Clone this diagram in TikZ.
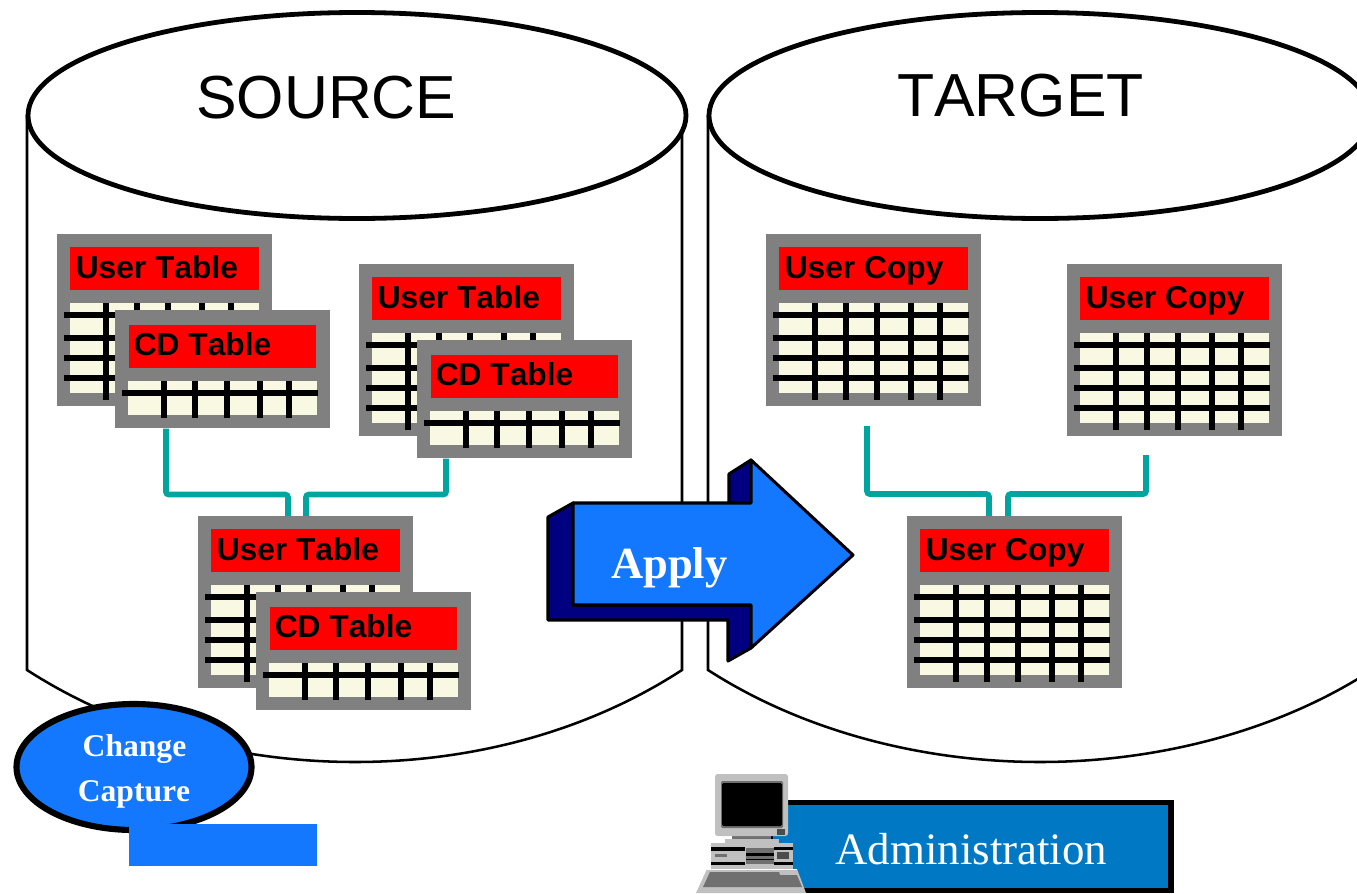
\documentclass[tikz,border=0pt]{standalone}
\usepackage{fontspec}
\setmainfont[Kerning=Off]{Liberation Serif}
\setsansfont[Kerning=Off]{Liberation Sans}
\usetikzlibrary{shapes.geometric}
\definecolor{capblue}{HTML}{1478FF}
\definecolor{navyback}{HTML}{000080}
\definecolor{admblue}{HTML}{0078C3}
\definecolor{tealline}{HTML}{00A5A0}
\definecolor{cream}{HTML}{F9F8E3}
\definecolor{framegray}{HTML}{808080}
\definecolor{silver}{HTML}{C0C0C0}
\definecolor{midgray}{HTML}{707070}
\def\uu{0.75pt}
\tikzset{
  x=0.75pt,y=-0.75pt,
  cyl/.style={draw=black,line width=3.6pt,fill=white},
  cylside/.style={draw=black,line width=1.9pt},
  biglabel/.style={anchor=base west,inner sep=0pt,font=\sffamily\fontsize{45.6}{50}\selectfont},
  framebox/.style={fill=framegray,draw=none,anchor=north west,inner sep=0pt},
  redlabel/.style={fill=red,draw=none,anchor=north west,inner sep=0pt},
  tbltext/.style={anchor=base west,inner sep=0pt,font=\sffamily\bfseries\fontsize{23.8}{26}\selectfont},
  tblgrid/.style={draw=black,line width=4.2pt},
  conn/.style={draw=tealline,line width=4.2pt,rounded corners=2pt},
  arrowfront/.style={fill=capblue,draw=black,line width=2.3pt,line join=round},
  arrowback/.style={fill=navyback,draw=black,line width=2.3pt,line join=round},
  whitebold/.style={text=white,inner sep=0pt,anchor=base,font=\rmfamily\bfseries\fontsize{23.7}{26}\selectfont},
}
\newcommand{\usertbl}[4]{% name, x, y, text
  \begin{scope}[shift={(#2,#3)}]
    \node[framebox,minimum width=215*\uu,minimum height=172*\uu] (#1) at (0,0) {};
    \node[redlabel,minimum width=189*\uu,minimum height=43*\uu] (#1r) at (13,13) {};
    \fill[cream] (13,69) rectangle (202,159);
    \foreach \yy in {81,104,124,144}{\draw[tblgrid] (7,\yy) -- (203,\yy);}
    \foreach \xx in {49,80,111,145,174}{\draw[tblgrid] (\xx,69) -- (\xx,166);}
    \node[tbltext] (#1t) at (18.5,44.5) {#4};
  \end{scope}}
\newcommand{\cdtbl}[4]{% name, x, y, text
  \begin{scope}[shift={(#2,#3)}]
    \node[framebox,minimum width=215*\uu,minimum height=118*\uu] (#1) at (0,0) {};
    \node[redlabel,minimum width=187*\uu,minimum height=43*\uu] (#1r) at (14,15) {};
    \fill[cream] (13,71) rectangle (202,105);
    \draw[tblgrid] (7,83) -- (203,83);
    \foreach \xx in {49,80,112,145,174}{\draw[tblgrid] (\xx,71) -- (\xx,108);}
    \node[tbltext] (#1t) at (18.5,45) {#4};
  \end{scope}}
\begin{document}
\begin{tikzpicture}
\useasboundingbox (0,0) rectangle (1357,893);
\clip (0,0) rectangle (1357,893);
\fill[white] (0,0) rectangle (1357,893);

% source cylinder
\draw[cylside] (27,115) -- (27,670) .. controls (120,730) and (235,762) .. (355,762)
   .. controls (475,762) and (590,730) .. (682,670) -- (682,115);
\draw[cyl] (357,115.5) ellipse [x radius=329,y radius=103];
\node[biglabel] (source) at (196,118) {SOURCE};

% target cylinder
\draw[cylside] (708,115) -- (708,670) .. controls (801,730) and (920,762) .. (1040,762)
   .. controls (1160,762) and (1280,730) .. (1372,670) -- (1372,115);
\draw[cyl] (1040,115.5) ellipse [x radius=331,y radius=103];
\node[biglabel] (target) at (897,116) {TARGET};

% tables, source
\usertbl{ua}{57}{234}{User Table}
\cdtbl{ca}{115}{310}{CD Table}
\usertbl{ub}{359}{264}{User Table}
\cdtbl{cb}{417}{340}{CD Table}
\usertbl{uc}{198}{516}{User Table}
\cdtbl{cc}{256}{592}{CD Table}

% tables, target
\usertbl{ta}{766}{234}{User Copy}
\usertbl{tb}{1067}{264}{User Copy}
\usertbl{tc}{907}{516}{User Copy}

% connectors
\draw[conn] ([xshift=51*\uu]ca.south west) -- ++(0,66) -| ([xshift=90*\uu]uc.north west);
\draw[conn] ([xshift=29*\uu]cb.south west) -- ++(0,36) -| ([xshift=108*\uu]uc.north west);
\coordinate (fa) at (867,426);
\coordinate (fb) at (1146,455);
\draw[conn] (fa) -- (867,494) -| ([xshift=82*\uu]tc.north west);
\draw[conn] (fb) -- (1146,494) -| ([xshift=101*\uu]tc.north west);

% apply arrow
\draw[arrowback] (573,503) -- (548,517) -- (548,620) -- (728,620) -- (728,661) -- (751,648) -- (751,605) -- (573,605) -- cycle;
\draw[arrowback] (751,460) -- (729,474) -- (729,503) -- (751,503) -- cycle;
\draw[arrowfront] (573,503) -- (751,503) -- (751,460) -- (853,555) -- (751,648) -- (751,605) -- (573,605) -- cycle;
\node[whitebold,anchor=base west,font=\rmfamily\bfseries\fontsize{33.4}{36}\selectfont] (apply) at (611,578) {Apply};

% change capture
\draw[fill=capblue,draw=black,line width=4.6pt] (134,767) ellipse [x radius=117.5,y radius=63];
\fill[capblue] (129,824) rectangle (317,865.5);
\node[whitebold] (change) at (134.5,756) {Change};
\node[whitebold] (capture) at (134,801) {Capture};

% administration
\draw[fill=admblue,draw=black,line width=3.8pt] (770,802.5) rectangle (1171,890.5);
\node[anchor=base west,inner sep=0pt,text=white,font=\rmfamily\fontsize{33.7}{36}\selectfont] (adm) at (835,864) {Administration};

% computer
\fill[silver] (707,869) -- (797,869) -- (806,893) -- (696,893) -- cycle;
\fill[midgray] (710,872) -- (779,872) -- (780,875) -- (797,875) -- (802,887) -- (703,887) -- cycle;
\fill[silver] (711,843) rectangle (793,869);
\fill[white] (707,868.5) rectangle (797,869.5);
\fill[black] (711,847) rectangle (745,851);
\fill[black] (711,862) rectangle (745,865);
\fill[black] (774,847) rectangle (793,850);
\fill[black] (774,862) rectangle (793,865);
\fill[midgray] (746,848) rectangle (774,864);
\fill[black] (746,853) rectangle (774,855.5);
\fill[black] (746,858.5) rectangle (774,860);
\fill[black!70] (777,852) rectangle (789,859);
\fill[midgray] (715,854) rectangle (727,857);
\fill[silver] (725,839) rectangle (779,846);
\fill[midgray] (732,834) rectangle (771,839);
\fill[silver,rounded corners=2pt] (715,774) rectangle (788,836);
\fill[midgray,rounded corners=1pt] (721,781) rectangle (783,828);
\fill[black,rounded corners=1pt] (722,783) rectangle (782,826);
\fill[black!70] (777,829) rectangle (785,835);
\end{tikzpicture}
\end{document}
